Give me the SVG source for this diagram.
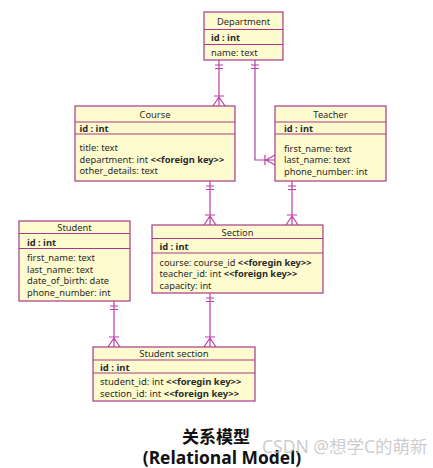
<svg xmlns="http://www.w3.org/2000/svg" width="433" height="468" viewBox="0 0 433 468">
<style>
.box{fill:#fefbcf;stroke:#a8388c;stroke-width:1.2}
.sep{stroke:#a8388c;stroke-width:1}
.t{font-family:"Noto Sans","Open Sans",sans-serif;font-size:9.3px;fill:#2a2a2a}
.h{text-anchor:middle}
.b{font-weight:bold}
.c{fill:none;stroke:#c03ca4;stroke-width:1.2}
</style>
<rect width="433" height="468" fill="#fff"/>
<g id="connectors" class="c">
  <path d="M219 60V106M215 65H223M215 68.5H223M214 96H224M219 97L213 106M219 97L225 106"/>
  <path d="M255 60V160H275M251 65H259M251 68.5H259M265 155V165M266 160L275 155M266 160L275 165"/>
  <path d="M210 181V225M206 186H214M206 189.5H214M205 215H215M210 216L204 225M210 216L216 225"/>
  <path d="M292 181V225M288 186H296M288 189.5H296M287 215H297M292 216L286 225M292 216L298 225"/>
  <path d="M114 301V347M110 306H118M110 309.5H118M109 337H119M114 338L108 347M114 338L120 347"/>
  <path d="M210 293V347M206 298H214M206 301.5H214M205 337H215M210 338L204 347M210 338L216 347"/>
</g>
<g id="department">
  <rect class="box" x="204" y="12" width="79" height="48"/>
  <path class="sep" d="M204 29.5H283M204 44.5H283"/>
  <text class="t h" x="243.5" y="24.5">Department</text>
  <text class="t b" x="211" y="40.5">id : int</text>
  <text class="t" x="211" y="56">name: text</text>
</g>
<g id="course">
  <rect class="box" x="75" y="106" width="160" height="75"/>
  <path class="sep" d="M75 122H235M75 134H235"/>
  <text class="t h" x="155" y="117.5">Course</text>
  <text class="t b" x="79.5" y="131.5">id : int</text>
  <text class="t" x="79.5" y="151">title: text</text>
  <text class="t" x="79.5" y="162.5">department: int <tspan class="b">&lt;&lt;foreign key&gt;&gt;</tspan></text>
  <text class="t" x="79.5" y="174">other_details: text</text>
</g>
<g id="teacher">
  <rect class="box" x="275" y="106" width="111" height="75"/>
  <path class="sep" d="M275 122H386M275 134H386"/>
  <text class="t h" x="330.5" y="117.5">Teacher</text>
  <text class="t b" x="284" y="131.5">id : int</text>
  <text class="t" x="284" y="151.5">first_name: text</text>
  <text class="t" x="284" y="163">last_name: text</text>
  <text class="t" x="284" y="174.5">phone_number: int</text>
</g>
<g id="student">
  <rect class="box" x="19" y="221" width="111" height="80"/>
  <path class="sep" d="M19 233.5H130M19 248.5H130"/>
  <text class="t h" x="74.5" y="230.5">Student</text>
  <text class="t b" x="27" y="245.5">id : int</text>
  <text class="t" x="27" y="261">first_name: text</text>
  <text class="t" x="27" y="272.5">last_name: text</text>
  <text class="t" x="27" y="284">date_of_birth: date</text>
  <text class="t" x="27" y="295.5">phone_number: int</text>
</g>
<g id="section">
  <rect class="box" x="152" y="225" width="171" height="68"/>
  <path class="sep" d="M152 238.5H323M152 253H323"/>
  <text class="t h" x="237.5" y="235.5">Section</text>
  <text class="t b" x="159.5" y="250">id : int</text>
  <text class="t" x="159.5" y="265.5">course: course_id <tspan class="b">&lt;&lt;foregin key&gt;&gt;</tspan></text>
  <text class="t" x="159.5" y="277">teacher_id: int <tspan class="b">&lt;&lt;foreign key&gt;&gt;</tspan></text>
  <text class="t" x="159.5" y="288.5">capacity: int</text>
</g>
<g id="student-section">
  <rect class="box" x="93" y="347" width="162" height="54"/>
  <path class="sep" d="M93 360H255M93 373H255"/>
  <text class="t h" x="174" y="357" style="font-size:9.5px">Student section</text>
  <text class="t b" x="100" y="370.5" style="font-size:9.5px">id : int</text>
  <text class="t" x="100" y="385" style="font-size:9.5px">student_id: int <tspan class="b">&lt;&lt;foregin key&gt;&gt;</tspan></text>
  <text class="t" x="100" y="396.8" style="font-size:9.5px">section_id: int <tspan class="b">&lt;&lt;foreign key&gt;&gt;</tspan></text>
</g>
<g id="caption">
  <text x="216" y="443" text-anchor="middle" font-family="'Noto Sans CJK SC',sans-serif" font-weight="bold" font-size="17" fill="#111">关系模型</text>
  <text x="222" y="464" text-anchor="middle" font-family="'Open Sans','Noto Sans',sans-serif" font-weight="bold" font-size="17.4" fill="#111">(Relational Model)</text>
  <text x="262" y="453" font-family="'Noto Sans','Noto Sans CJK SC',sans-serif" font-size="17.5" fill="#c4c4c4" fill-opacity="0.85">CSDN @想学C的萌新</text>
</g>
</svg>
